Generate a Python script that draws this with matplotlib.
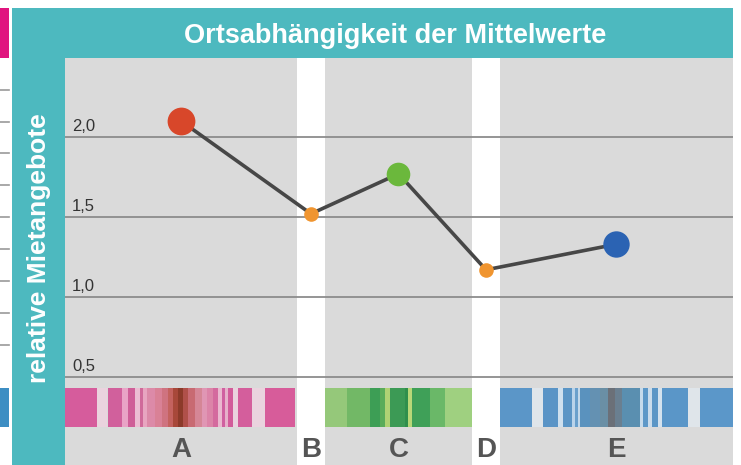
#!/usr/bin/env python3

import matplotlib.pyplot as plt
from matplotlib.patches import Rectangle

# data
categories = ["A", "B", "C", "D", "E"]
values = [2.10, 1.52, 1.77, 1.17, 1.33]
yTicks = [0.5, 1.0, 1.5, 2.0]
yTickLabels = ["0,5", "1,0", "1,5", "2,0"]

titleText = "Ortsabhängigkeit der Mittelwerte"
yLabelText = "relative Mietangebote"

# layout / style
segmentWidths = [232, 28, 147, 28, 233]
isGap = [False, True, False, True, False]
markerColors = ["#d8472a", "#f09530", "#6bb83c", "#f09530", "#2b63b3"]
markerSizes = [20, 10.5, 17, 10.5, 19]

teal = "#4db9bf"
plotGrey = "#dadada"
pxPerUnit = 160.0
zeroPx = 457.0

plt.rcParams["font.family"] = ["Liberation Sans", "DejaVu Sans"]

W, H = 741, 465
fig = plt.figure(figsize=(W / 100, H / 100), dpi=100)
fig.patch.set_facecolor("white")

# background axes in pixel coordinates
bg = fig.add_axes([0, 0, 1, 1])
bg.set_xlim(0, W)
bg.set_ylim(H, 0)
bg.axis("off")

bg.add_patch(Rectangle((12, 8), 733 - 12, H - 8, color=teal, lw=0))
# bit of the neighbouring graphic on the far left
bg.add_patch(Rectangle((0, 8), 9, 50, color="#e0157f", lw=0))
for yy in [90, 122, 153, 185, 217, 249, 281, 313, 345]:
    bg.plot([0, 9], [yy, yy], color="#9a9a9a", lw=1.2)
bg.add_patch(Rectangle((0, 388), 9, 39, color="#3d8ec3", lw=0))

bg.text(395, 43, titleText, color="white", fontsize=19.5, fontweight="bold",
        ha="center", va="baseline")
bg.text(39, 248, yLabelText, color="white", fontsize=19, fontweight="bold",
        rotation=90, ha="center", va="center")

# main plot axes: x in pixel offsets, y in data units
left, right, top, bottom = 65, 733, 58, 465
ax = fig.add_axes([left / W, (H - bottom) / H, (right - left) / W, (bottom - top) / H])
ax.set_xlim(0, right - left)
ax.set_ylim((zeroPx - bottom) / pxPerUnit, (zeroPx - top) / pxPerUnit)
ax.set_facecolor(plotGrey)
for s in ax.spines.values():
    s.set_visible(False)
ax.set_xticks([])
ax.set_yticks([])

edges = [0]
for w in segmentWidths:
    edges.append(edges[-1] + w)
centers = [(edges[i] + edges[i + 1]) / 2 for i in range(len(segmentWidths))]

for i, gap in enumerate(isGap):
    if gap:
        ax.axvspan(edges[i], edges[i + 1], color="white", lw=0, zorder=1)

for t, lab in zip(yTicks, yTickLabels):
    ax.axhline(t, color="#8c8c8c", lw=1.3, zorder=2)
    ax.text(7, t + 0.037, lab, fontsize=12, color="#333333",
            ha="left", va="baseline", zorder=3)

# barcode bands (pixel offsets within the plot)
bandLow = (zeroPx - 427) / pxPerUnit
bandHigh = (zeroPx - 388) / pxPerUnit

stripesA = [
    (0, 32, "#d65c9c"), (32, 42, "#ead3de"), (43, 57, "#d1609c"), (57, 63, "#e9a3c6"),
    (63, 70, "#cf5e98"), (70, 75, "#ecbdd3"), (75, 78, "#d06a9a"), (78, 82, "#e8a5c0"),
    (82, 90, "#dc8aa8"), (90, 97, "#d98196"), (97, 103, "#cf7380"), (103, 108, "#c4625f"),
    (108, 113, "#a8483a"), (113, 118, "#8c3a2a"), (118, 123, "#b0504a"), (123, 130, "#c86a72"),
    (130, 137, "#d58696"), (137, 142, "#e096b4"), (142, 148, "#dc84a8"), (148, 153, "#d46a9e"),
    (153, 157, "#eab8cf"), (157, 160, "#d060a0"), (160, 163, "#e6b0ca"), (163, 168, "#d25c9a"),
    (168, 173, "#ead3de"), (173, 187, "#d45e9c"), (187, 200, "#ead3de"), (200, 230, "#d75c9a"),
]
stripesC = [
    (0, 22, "#95c87a"), (22, 45, "#72b866"), (45, 55, "#3d9e55"), (55, 60, "#5aac5a"),
    (60, 65, "#b0d274"), (65, 80, "#3c9a55"), (80, 83, "#2f8f4c"), (83, 87, "#b8d878"),
    (87, 105, "#3fa058"), (105, 120, "#6ab868"), (120, 147, "#9fd080"),
]
stripesE = [
    (0, 32, "#5b96c8"), (32, 43, "#dfe5ea"), (43, 58, "#5a94c6"), (58, 63, "#cfe0ee"),
    (63, 72, "#5b95c5"), (72, 75, "#b9d3ea"), (75, 78, "#6aa0cc"), (78, 80, "#c3d8ea"),
    (80, 90, "#5a92be"), (90, 100, "#6491b2"), (100, 108, "#6a8fa5"), (108, 115, "#6b7078"),
    (115, 122, "#6a7f90"), (122, 140, "#5a8fb0"), (140, 143, "#c6dbec"), (143, 148, "#5d98c8"),
    (148, 152, "#cadcec"), (152, 158, "#5b96c6"), (158, 162, "#d4e2ee"), (162, 188, "#5a96c8"),
    (188, 200, "#dfe5ea"), (200, 233, "#5b97c9"),
]
for segIdx, stripes in [(0, stripesA), (2, stripesC), (4, stripesE)]:
    x0 = edges[segIdx]
    for a, b, c in stripes:
        ax.add_patch(Rectangle((x0 + a, bandLow), b - a, bandHigh - bandLow,
                               color=c, lw=0, zorder=2))

# line and markers
ax.plot(centers, values, color="#474747", lw=2.6, zorder=4, solid_capstyle="round")
for x, v, c, ms in zip(centers, values, markerColors, markerSizes):
    ax.plot(x, v, "o", color=c, markersize=ms, markeredgewidth=0, zorder=5)

for x, lab in zip(centers, categories):
    ax.text(x, 0.0, lab, fontsize=20, fontweight="bold", color="#555555",
            ha="center", va="baseline", zorder=3)

fig.savefig("out.png", dpi=100)
